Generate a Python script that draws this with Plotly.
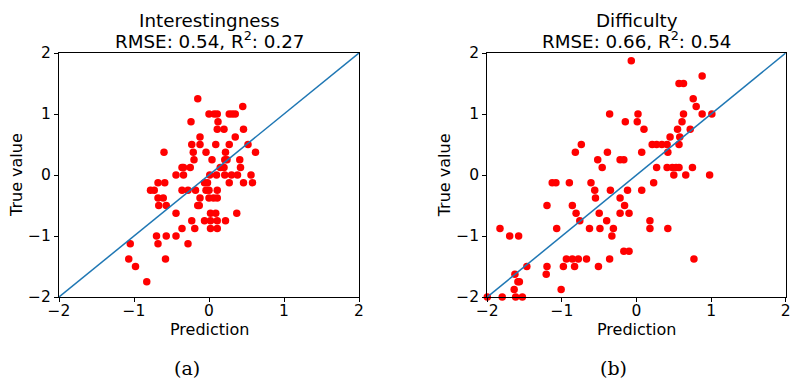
import plotly.graph_objects as go

# ---- data: panel (a) Interestingness ----
int_pred = [-0.15, 0.45,
            0.0, 0.07, 0.11, 0.27, 0.31, 0.35,
            -0.24, 0.12,
            0.11, 0.20, 0.46,
            -0.12, 0.35,
            -0.23, -0.12, 0.09, 0.27, 0.52,
            -0.60, -0.21, -0.04, 0.22, 0.62,
            -0.20, 0.04, 0.21, 0.24, 0.41,
            -0.36, -0.34, -0.25, 0.15, 0.20, 0.42,
            -0.44, -0.34, 0.01, 0.10, 0.21, 0.30, 0.38, 0.56,
            -0.68, -0.59, -0.06, -0.02, 0.27, 0.46, 0.58,
            -0.78, -0.73, -0.36, -0.28, -0.18, -0.04, 0.0, 0.11,
            -0.68, -0.61, -0.12, 0.0, 0.06, 0.11,
            -0.67, -0.57, -0.15, -0.13,
            -0.44, 0.02, 0.09, 0.37,
            -0.23, -0.06, 0.02, 0.11, 0.22,
            -0.36, -0.19, 0.02, 0.11,
            -0.70, -0.57, -0.44,
            -1.05, -0.68, -0.28,
            -1.07, -0.58,
            -0.98,
            -0.83]
int_true = [1.25, 1.125,
            1.0, 1.0, 1.0, 1.0, 1.0, 1.0,
            0.875, 0.875,
            0.75, 0.75, 0.75,
            0.625, 0.625,
            0.5, 0.5, 0.5, 0.5, 0.5,
            0.375, 0.375, 0.375, 0.375, 0.375,
            0.25, 0.25, 0.25, 0.25, 0.25,
            0.125, 0.125, 0.125, 0.125, 0.125, 0.125,
            0.0, 0.0, 0.0, 0.0, 0.0, 0.0, 0.0, 0.0,
            -0.125, -0.125, -0.125, -0.125, -0.125, -0.125, -0.125,
            -0.25, -0.25, -0.25, -0.25, -0.25, -0.25, -0.25, -0.25,
            -0.375, -0.375, -0.375, -0.375, -0.375, -0.375,
            -0.5, -0.5, -0.5, -0.5,
            -0.625, -0.625, -0.625, -0.625,
            -0.75, -0.75, -0.75, -0.75, -0.75,
            -0.875, -0.875, -0.875, -0.875,
            -1.0, -1.0, -1.0,
            -1.125, -1.125, -1.125,
            -1.375, -1.375,
            -1.5,
            -1.75]

# ---- data: panel (b) Difficulty ----
dif_pred = [-0.07, 0.88, 0.57, 0.63, 0.76, 0.80,
            -0.36, 0.02, 0.63, 0.88, 1.01,
            -0.15, 0.01, 0.61,
            0.10, 0.55, 0.72,
            0.45, 0.58,
            -0.74, 0.21, 0.27, 0.34, 0.41, 0.57,
            -0.82, -0.39, 0.07, 0.42,
            -0.52, -0.22, -0.17,
            -0.46, 0.27, 0.41, 0.48, 0.53, 0.57, 0.75,
            0.50, 0.66, 0.98,
            -1.13, -1.08, -0.90, -0.61, 0.23,
            -0.56, -0.35, -0.12, 0.07,
            -0.55, -0.22,
            -1.20, -0.86, -0.16,
            -0.81, -0.50, -0.22, -0.10,
            -0.76, -0.40, 0.18,
            -1.83, -1.07, -0.63, -0.49, -0.31, 0.18, 0.42,
            -1.70, -1.58, -0.33,
            -0.17, -0.10,
            -0.94, -0.86, -0.78, -0.67, -0.36, 0.77,
            -1.47, -1.20, -0.98, -0.83, -0.51,
            -1.63, -1.21,
            -1.59, -1.57,
            -1.64, -1.01,
            -2.0, -1.80, -1.62, -1.53]
dif_true = [1.875, 1.625, 1.5, 1.5, 1.25, 1.125,
            1.0, 1.0, 1.0, 1.0, 1.0,
            0.875, 0.875, 0.875,
            0.75, 0.75, 0.75,
            0.625, 0.625,
            0.5, 0.5, 0.5, 0.5, 0.5, 0.5,
            0.375, 0.375, 0.375, 0.375,
            0.25, 0.25, 0.25,
            0.125, 0.125, 0.125, 0.125, 0.125, 0.125, 0.125,
            0.0, 0.0, 0.0,
            -0.125, -0.125, -0.125, -0.125, -0.125,
            -0.25, -0.25, -0.25, -0.25,
            -0.375, -0.375,
            -0.5, -0.5, -0.5,
            -0.625, -0.625, -0.625, -0.625,
            -0.75, -0.75, -0.75,
            -0.875, -0.875, -0.875, -0.875, -0.875, -0.875, -0.875,
            -1.0, -1.0, -1.0,
            -1.25, -1.25,
            -1.375, -1.375, -1.375, -1.375, -1.375, -1.375,
            -1.5, -1.5, -1.5, -1.5, -1.5,
            -1.625, -1.625,
            -1.75, -1.75,
            -1.875, -1.875,
            -2.0, -2.0, -2.0, -2.0]

diag = [-2, 2]
tick_vals = [-2, -1, 0, 1, 2]
tick_text = ["\u22122", "\u22121", "0", "1", "2"]

title_names = ["Interestingness", "Difficulty"]
title_stats = ["RMSE: 0.54, R<sup>2</sup>: 0.27", "RMSE: 0.66, R<sup>2</sup>: 0.54"]
captions = ["(a)", "(b)"]

FONT = "DejaVu Sans"
fig = go.Figure()

for px_, py_, xa, ya in [(int_pred, int_true, "x", "y"), (dif_pred, dif_true, "x2", "y2")]:
    fig.add_trace(go.Scatter(x=px_, y=py_, mode="markers",
                             marker=dict(color="#ff0000", size=7.5, line=dict(width=0)),
                             xaxis=xa, yaxis=ya, showlegend=False, cliponaxis=False))
    fig.add_trace(go.Scatter(x=diag, y=diag, mode="lines",
                             line=dict(color="#1f77b4", width=1.5),
                             xaxis=xa, yaxis=ya, showlegend=False))

W, H = 792, 379
axdomx = [[59 / W, 359 / W], [487.3 / W, 785.7 / W]]
axdomy = [1 - 297 / H, 1 - 53 / H]

axcommon = dict(range=[-2, 2], tickvals=tick_vals, ticktext=tick_text,
                showgrid=False, zeroline=False, showline=True, linecolor="black",
                linewidth=1.2, mirror=True, ticks="outside", ticklen=4,
                tickwidth=1, tickcolor="black", automargin=False,
                tickfont=dict(family=FONT, size=15.5, color="black"))

fig.update_layout(
    width=W, height=H,
    margin=dict(l=0, r=0, t=0, b=0, autoexpand=False),
    paper_bgcolor="white", plot_bgcolor="white",
    xaxis=dict(domain=axdomx[0], anchor="y", ticklabelstandoff=-5, **axcommon),
    yaxis=dict(domain=axdomy, anchor="x", **axcommon),
    xaxis2=dict(domain=axdomx[1], anchor="y2", ticklabelstandoff=-5, **axcommon),
    yaxis2=dict(domain=axdomy, anchor="x2", **axcommon),
)

cap_x = [187, 613]
annos = []
for i in range(2):
    cx = (axdomx[i][0] + axdomx[i][1]) / 2
    annos.append(dict(x=cx, y=1 - 20.5 / H, xref="paper", yref="paper",
                      text=title_names[i], showarrow=False, xanchor="center", yanchor="middle",
                      font=dict(family=FONT, size=18.3, color="black")))
    annos.append(dict(x=cx, y=1 - 40 / H, xref="paper", yref="paper",
                      text=title_stats[i], showarrow=False, xanchor="center", yanchor="middle",
                      font=dict(family=FONT, size=18.3, color="black")))
    annos.append(dict(x=cx, y=1 - 329 / H, xref="paper", yref="paper",
                      text="Prediction", showarrow=False, xanchor="center", yanchor="middle",
                      font=dict(family=FONT, size=16, color="black")))
    annos.append(dict(x=(axdomx[i][0] * W - 42) / W, y=1 - 175 / H, xref="paper", yref="paper",
                      text="True value", showarrow=False, textangle=-90,
                      xanchor="center", yanchor="middle",
                      font=dict(family=FONT, size=16, color="black")))
    annos.append(dict(x=cap_x[i] / W, y=1 - 368 / H, xref="paper", yref="paper",
                      text=captions[i], showarrow=False, xanchor="center", yanchor="middle",
                      font=dict(family="DejaVu Serif", size=19, color="black")))
fig.update_layout(annotations=annos)

fig.write_html("out.html", config={"displayModeBar": False},
               post_script="document.body.style.margin='0';document.body.style.padding='0';"
                           "document.documentElement.style.overflow='hidden';")
